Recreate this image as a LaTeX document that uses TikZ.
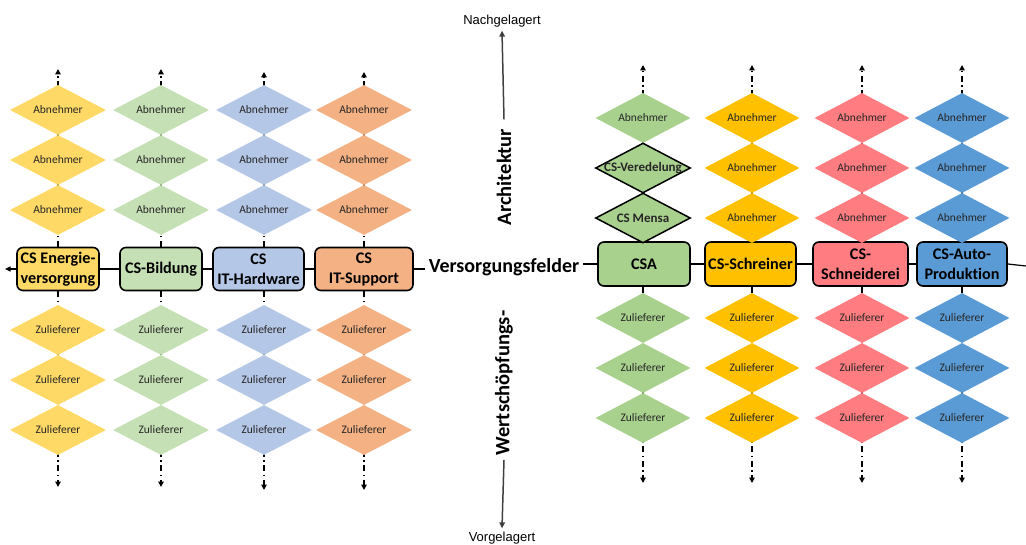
\documentclass[tikz,border=0pt]{standalone}
\usepackage{fontspec}
\setmainfont{Carlito}[Ligatures={NoCommon}]
\newfontfamily\arialf{Liberation Sans}
\usetikzlibrary{shapes.geometric,arrows.meta}
\pgfdeclarelayer{bg}
\pgfsetlayers{bg,main}
\definecolor{cY}{HTML}{FFD966}
\definecolor{cG}{HTML}{C5E0B4}
\definecolor{cB}{HTML}{B4C7E7}
\definecolor{cO}{HTML}{F4B183}
\definecolor{rG}{HTML}{A9D18E}
\definecolor{rY}{HTML}{FFC000}
\definecolor{rR}{HTML}{FF7C80}
\definecolor{rB}{HTML}{5B9BD5}
\begin{document}
\begin{tikzpicture}[x=1pt,y=-1pt,
  dia/.style={diamond, minimum width=96pt, minimum height=50pt, inner sep=0pt,
    font=\fontsize{11.5}{13}\selectfont, text=black!85},
  diab/.style={dia, draw=black, line width=1.5pt, font=\bfseries\fontsize{13}{15}\selectfont},
  box/.style={draw=black, line width=1.6pt, rounded corners=6pt, inner sep=0pt,
    align=center, font=\bfseries\fontsize{16.2}{20}\selectfont},
  dd/.style={line width=1.6pt, dash pattern=on 6pt off 3.5pt on 1.5pt off 3.5pt,
    -{Triangle[length=5.5pt,width=5.5pt]}},
  link/.style={line width=1.2pt},
  axis/.style={line width=1.5pt, draw=black!75, -{Triangle[length=6pt,width=5.5pt]}},
  big/.style={font=\bfseries\fontsize{20.5}{24}\selectfont},
  small/.style={font=\arialf\fontsize{13}{15}\selectfont}
]
\useasboundingbox (0,0) rectangle (1026,545);

% ---------- left panel ----------
\node[box,fill=cY,minimum width=82pt,minimum height=43pt] (L1b) at (58,269) {CS Energie-\\versorgung};
\node[box,fill=cG,minimum width=82pt,minimum height=43pt] (L2b) at (161,269) {CS-Bildung};
\node[box,fill=cB,minimum width=91pt,minimum height=43pt] (L3b) at (258.5,269) {CS\\IT-Hardware};
\node[box,fill=cO,minimum width=98pt,minimum height=43pt] (L4b) at (364,269) {CS\\IT-Support};

\foreach \c/\x/\col/\t/\u in {1/58/cY/69/487, 2/161/cG/69/487, 3/264/cB/72/490, 4/364/cO/72/490}{
  \foreach \i/\y in {1/110,2/160,3/210}
    \node[dia,fill=\col] (L\c a\i) at (\x,\y) {\makebox[0pt]{Abnehmer}};
  \foreach \i/\y in {1/330,2/380,3/430}
    \node[dia,fill=\col] (L\c z\i) at (\x,\y) {\makebox[0pt]{Zulieferer}};
  \coordinate (L\c t) at (\x,\t);
  \coordinate (L\c u) at (\x,\u);
}

% ---------- right panel ----------
\node[box,fill=rG,minimum width=92pt,minimum height=44pt] (R1b) at (644,264) {CSA};
\node[box,fill=rY,minimum width=91pt,minimum height=44pt] (R2b) at (750.5,264) {CS-Schreiner};
\node[box,fill=rR,minimum width=95pt,minimum height=44pt] (R3b) at (860.5,264) {CS-\\Schneiderei};
\node[box,fill=rB,minimum width=90pt,minimum height=44pt] (R4b) at (962,264) {CS-Auto-\\Produktion};

\node[dia,fill=rG,minimum width=95pt] (R1a1) at (643,118) {\makebox[0pt]{Abnehmer}};
\node[diab,fill=rG,minimum width=95pt] (R1a2) at (643,168) {\makebox[0pt]{CS-Veredelung}};
\node[diab,fill=rG,minimum width=95pt] (R1a3) at (643,218) {\makebox[0pt]{CS Mensa}};
\foreach \c/\x/\col in {2/752/rY, 3/862/rR, 4/962/rB}{
  \foreach \i/\y in {1/118,2/168,3/218}
    \node[dia,fill=\col,minimum width=95pt] (R\c a\i) at (\x,\y) {\makebox[0pt]{Abnehmer}};
}
\foreach \c/\x/\col in {1/643/rG, 2/752/rY, 3/862/rR, 4/962/rB}{
  \foreach \i/\y in {1/318,2/368,3/418}
    \node[dia,fill=\col,minimum width=95pt] (R\c z\i) at (\x,\y) {\makebox[0pt]{Zulieferer}};
  \coordinate (R\c t) at (\x,65);
  \coordinate (R\c u) at (\x,483);
}

% ---------- centre axis ----------
\node[small] (nach) at (502,21) {Nachgelagert};
\node[big,rotate=90] (arch) at (504,177) {Architektur};
\node[font=\bfseries\fontsize{20}{24}\selectfont] (vf) at (504,267) {Versorgungsfelder};
\node[big,rotate=90] (wert) at (504,383) {Wertschöpfungs-};
\node[small] (vor) at (502,538) {Vorgelagert};
\draw[axis] ([yshift=6pt]arch.east) -- (nach.south);
\draw[axis] ([yshift=-1pt]wert.west) -- (vor.north);

% ---------- horizontal links ----------
\coordinate (Lend) at (5,269);
\coordinate (Rend) at (1026,266);
\draw[link,-{Triangle[length=5.5pt,width=5pt]}] (L1b.west) -- (Lend);
\draw[link] (L1b.east) -- (L2b.west);
\draw[link] (L2b.east) -- (L3b.west);
\draw[link] (L3b.east) -- (L4b.west);
\draw[link] (L4b.east) -- (L4b.east -| vf.west);
\draw[link] (vf.east |- R1b.west) -- (R1b.west);
\draw[link] (R1b.east) -- (R2b.west);
\draw[link] (R2b.east) -- (R3b.west);
\draw[link] (R3b.east) -- (R4b.west);
\draw[link] (R4b.east) -- (Rend);

% ---------- vertical dashed chains ----------
\begin{pgfonlayer}{bg}
\foreach \c in {1,2,3,4}{
  \draw[dd] (L\c a1.north |- L\c b.north) -- (L\c t);
  \draw[dd] (L\c z1.north |- L\c b.south) -- (L\c u);
  \draw[dd] (R\c a1.north |- R\c b.north) -- (R\c t);
  \draw[dd] (R\c z1.north |- R\c b.south) -- (R\c u);
}
\end{pgfonlayer}
\end{tikzpicture}
\end{document}
